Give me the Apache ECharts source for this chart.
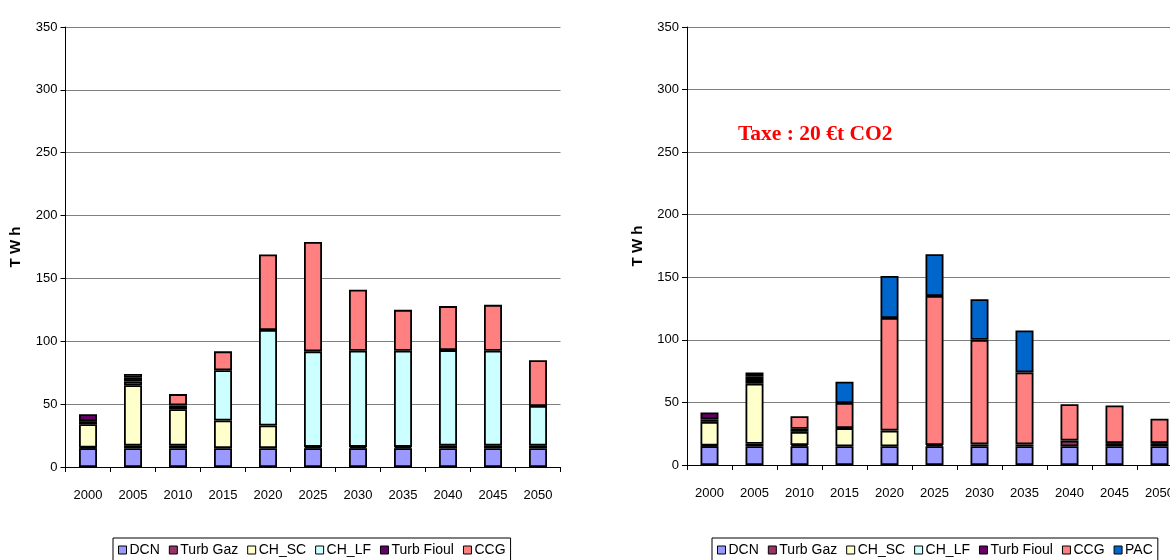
<!DOCTYPE html>
<html>
<head>
<meta charset="utf-8">
<script src="https://cdn.jsdelivr.net/npm/echarts@6/dist/echarts.min.js"></script>
<style>
html,body{margin:0;padding:0;background:#fff;overflow:hidden;width:1170px;height:560px;}
#c{width:1195px;height:560px;}
</style>
</head>
<body>
<div id="c"></div>
<script>
// ---- data ----
var years = ['2000','2005','2010','2015','2020','2025','2030','2035','2040','2045','2050'];
var yTicks = [0, 50, 100, 150, 200, 250, 300, 350];

// Left chart (no tax)
var DCN_L       = [15, 15, 15, 15, 15, 15, 15, 15, 15, 15, 15];
var TurbGaz_L   = [0.5, 2, 2, 0, 0, 1, 1, 1, 2, 2, 2];
var CH_SC_L     = [18.5, 48, 29, 22, 18, 0, 0, 0, 0, 0, 0];
var CH_LF_L     = [2.5, 3, 3, 40, 76, 76, 76.5, 76.5, 76, 75.5, 31.5];
var TurbFioul_L = [5.5, 3, 0, 0, 0, 0, 0, 0, 0, 0, 0];
var CCG_L       = [0, 3, 9, 15, 60, 87, 48.5, 32.5, 35, 36.5, 36.5];

// Right chart (tax 20 €/t CO2)
var DCN_R       = [15, 15, 15, 15, 15, 15, 15, 15, 15, 15, 15];
var TurbGaz_R   = [0.5, 2, 1, 0, 0, 1, 1.5, 1.5, 4.5, 2.5, 2.5];
var CH_SC_R     = [19, 48, 10.5, 14.5, 12.5, 0, 0, 0, 0, 0, 0];
var CH_LF_R     = [2, 3, 2.5, 0, 0, 0, 0, 0, 0, 0, 0];
var TurbFioul_R = [5.5, 3, 0, 0, 0, 0, 0, 0, 0, 0, 0];
var CCG_R       = [0, 3, 10, 20, 90, 119, 83.5, 57.5, 29, 30, 19.5];
var PAC_R       = [0, 0, 0, 17, 33.5, 33.5, 32.5, 33.5, 0, 0, 0];

var names = ['DCN','Turb Gaz','CH_SC','CH_LF','Turb Fioul','CCG','PAC'];
var colors = {
  'DCN':'#9999FF','Turb Gaz':'#993366','CH_SC':'#FFFFCC','CH_LF':'#CCFFFF',
  'Turb Fioul':'#660066','CCG':'#FF8080','PAC':'#0066CC'
};
var leftData  = [DCN_L, TurbGaz_L, CH_SC_L, CH_LF_L, TurbFioul_L, CCG_L];
var rightData = [DCN_R, TurbGaz_R, CH_SC_R, CH_LF_R, TurbFioul_R, CCG_R, PAC_R];

var FONT = "'Liberation Sans',Arial,sans-serif";

function clean(arr){ return arr.map(function(v){ return v === 0 ? '-' : v; }); }

function mkSeries(dataList, idx, stack){
  return dataList.map(function(d, i){
    return {
      name: names[i], type: 'bar', stack: stack,
      xAxisIndex: idx, yAxisIndex: idx,
      barWidth: 18,
      data: clean(d),
      itemStyle: {color: colors[names[i]], borderColor: '#000', borderWidth: 1.8},
      emphasis: {disabled: true},
      animation: false
    };
  });
}

function xAx(idx){
  return {
    type:'category', gridIndex: idx, data: years,
    axisLine:{lineStyle:{color:'#000', width:1}},
    axisTick:{show:true, length:5, lineStyle:{color:'#000'}},
    axisLabel:{color:'#000', fontSize:13, fontFamily:FONT, margin:22, interval:0}
  };
}
function yAx(idx){
  return {
    type:'value', gridIndex: idx, min: yTicks[0], max: yTicks[yTicks.length-1], interval: 50,
    name:'T W h', nameLocation:'middle', nameRotate:90, nameGap:42,
    nameTextStyle:{color:'#000', fontSize:15, fontWeight:'bold', fontFamily:FONT},
    axisLine:{show:true, lineStyle:{color:'#000', width:1}},
    axisTick:{show:true, length:5, lineStyle:{color:'#000'}},
    axisLabel:{color:'#000', fontSize:13, fontFamily:FONT, margin:8},
    splitLine:{show:true, lineStyle:{color:'#808080', width:1}}
  };
}

var chart = echarts.init(document.getElementById('c'), null, {renderer:'canvas'});
var legendBase = {
  orient:'horizontal', top: 538, padding:[5,5,6,5],
  borderColor:'#000', borderWidth:1, borderRadius:0,
  itemWidth:8, itemHeight:8, itemGap:9,
  icon:'rect',
  itemStyle:{borderColor:'#000', borderWidth:1},
  textStyle:{color:'#000', fontSize:14, fontFamily:FONT, padding:[0,0,0,-2]},
  selectedMode:false
};
chart.setOption({
  backgroundColor:'#fff',
  animation:false,
  grid:[
    {left:65.5, top:27, width:495, height:440},
    {left:687, top:27, width:495, height:438}
  ],
  xAxis:[xAx(0), xAx(1)],
  yAxis:[yAx(0), yAx(1)],
  legend:[
    Object.assign({}, legendBase, {left:113, data: names.slice(0,6)}),
    Object.assign({}, legendBase, {left:712, data: names.slice(0,7)})
  ],
  graphic:[{
    type:'text', left: 738, top: 123,
    style:{text:'Taxe : 20 €t CO2', fill:'#FF0000',
      font:"bold 21.5px 'Liberation Serif','Times New Roman',serif"}
  }],
  series: mkSeries(leftData, 0, 'L').concat(mkSeries(rightData, 1, 'R'))
});
</script>
</body>
</html>
